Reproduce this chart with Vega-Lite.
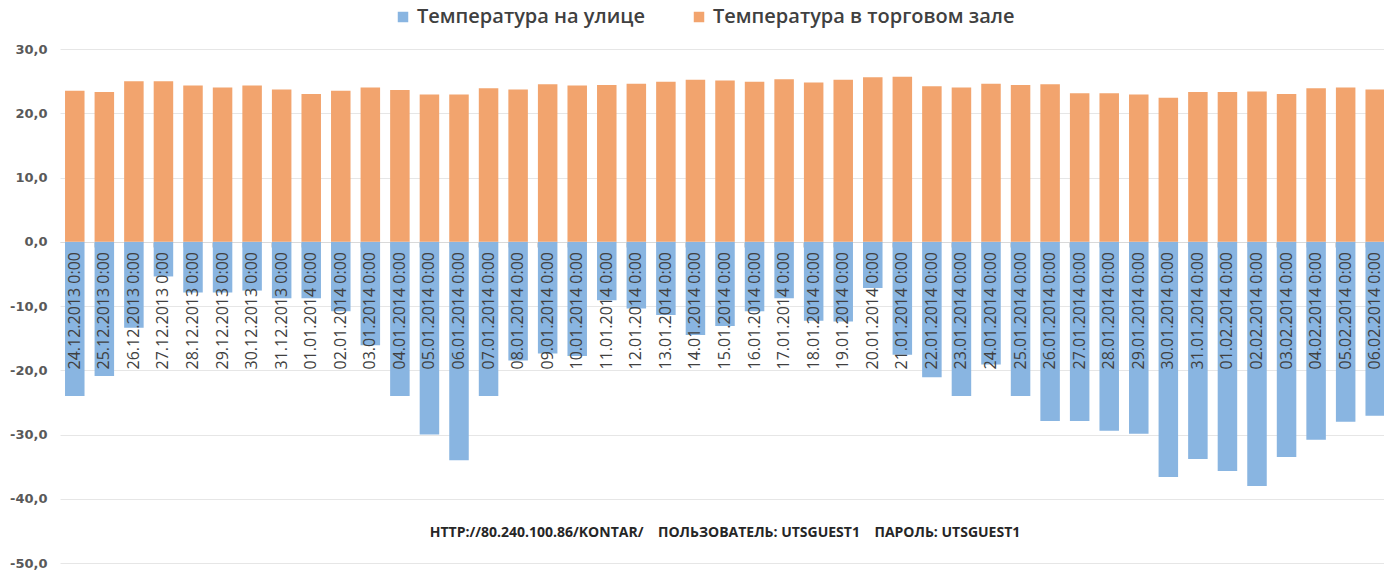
{
  "$schema": "https://vega.github.io/schema/vega-lite/v6.json",
  "width": 1330,
  "height": 514,
  "autosize": {"type": "none"},
  "padding": {"left": 60, "top": 49, "right": 0, "bottom": 9},
  "background": "white",
  "title": {
    "text": "HTTP://80.240.100.86/KONTAR/\u00a0\u00a0\u00a0\u00a0ПОЛЬЗОВАТЕЛЬ: UTSGUEST1\u00a0\u00a0\u00a0\u00a0ПАРОЛЬ: UTSGUEST1",
    "orient": "bottom",
    "anchor": "middle",
    "offset": -44,
    "font": "Open Sans",
    "fontSize": 14,
    "fontWeight": "bold",
    "color": "#262626"
  },
  "data": {
    "values": [
      {"d": "24.12.2013 0:00", "Температура на улице": -24.0, "Температура в торговом зале": 23.5},
      {"d": "25.12.2013 0:00", "Температура на улице": -20.9, "Температура в торговом зале": 23.3},
      {"d": "26.12.2013 0:00", "Температура на улице": -13.4, "Температура в торговом зале": 25.0},
      {"d": "27.12.2013 0:00", "Температура на улице": -5.4, "Температура в торговом зале": 25.0},
      {"d": "28.12.2013 0:00", "Температура на улице": -7.9, "Температура в торговом зале": 24.3},
      {"d": "29.12.2013 0:00", "Температура на улице": -7.9, "Температура в торговом зале": 24.0},
      {"d": "30.12.2013 0:00", "Температура на улице": -7.6, "Температура в торговом зале": 24.3},
      {"d": "31.12.2013 0:00", "Температура на улице": -8.8, "Температура в торговом зале": 23.7},
      {"d": "01.01.2014 0:00", "Температура на улице": -8.8, "Температура в торговом зале": 23.0},
      {"d": "02.01.2014 0:00", "Температура на улице": -10.8, "Температура в торговом зале": 23.5},
      {"d": "03.01.2014 0:00", "Температура на улице": -16.1, "Температура в торговом зале": 24.0},
      {"d": "04.01.2014 0:00", "Температура на улице": -24.0, "Температура в торговом зале": 23.6},
      {"d": "05.01.2014 0:00", "Температура на улице": -30.0, "Температура в торговом зале": 22.9},
      {"d": "06.01.2014 0:00", "Температура на улице": -34.0, "Температура в торговом зале": 22.9},
      {"d": "07.01.2014 0:00", "Температура на улице": -24.0, "Температура в торговом зале": 23.9},
      {"d": "08.01.2014 0:00", "Температура на улице": -18.5, "Температура в торговом зале": 23.7},
      {"d": "09.01.2014 0:00", "Температура на улице": -17.4, "Температура в торговом зале": 24.5},
      {"d": "10.01.2014 0:00", "Температура на улице": -17.8, "Температура в торговом зале": 24.3},
      {"d": "11.01.2014 0:00", "Температура на улице": -9.1, "Температура в торговом зале": 24.4},
      {"d": "12.01.2014 0:00", "Температура на улице": -10.4, "Температура в торговом зале": 24.6},
      {"d": "13.01.2014 0:00", "Температура на улице": -11.4, "Температура в торговом зале": 24.9},
      {"d": "14.01.2014 0:00", "Температура на улице": -14.5, "Температура в торговом зале": 25.2},
      {"d": "15.01.2014 0:00", "Температура на улице": -13.1, "Температура в торговом зале": 25.1},
      {"d": "16.01.2014 0:00", "Температура на улице": -10.8, "Температура в торговом зале": 24.9},
      {"d": "17.01.2014 0:00", "Температура на улице": -8.8, "Температура в торговом зале": 25.3},
      {"d": "18.01.2014 0:00", "Температура на улице": -12.3, "Температура в торговом зале": 24.8},
      {"d": "19.01.2014 0:00", "Температура на улице": -12.4, "Температура в торговом зале": 25.2},
      {"d": "20.01.2014 0:00", "Температура на улице": -7.2, "Температура в торговом зале": 25.6},
      {"d": "21.01.2014 0:00", "Температура на улице": -17.6, "Температура в торговом зале": 25.7},
      {"d": "22.01.2014 0:00", "Температура на улице": -21.1, "Температура в торговом зале": 24.2},
      {"d": "23.01.2014 0:00", "Температура на улице": -24.0, "Температура в торговом зале": 24.0},
      {"d": "24.01.2014 0:00", "Температура на улице": -19.1, "Температура в торговом зале": 24.6},
      {"d": "25.01.2014 0:00", "Температура на улице": -24.0, "Температура в торговом зале": 24.4},
      {"d": "26.01.2014 0:00", "Температура на улице": -27.9, "Температура в торговом зале": 24.5},
      {"d": "27.01.2014 0:00", "Температура на улице": -27.9, "Температура в торговом зале": 23.1},
      {"d": "28.01.2014 0:00", "Температура на улице": -29.4, "Температура в торговом зале": 23.1},
      {"d": "29.01.2014 0:00", "Температура на улице": -29.9, "Температура в торговом зале": 22.9},
      {"d": "30.01.2014 0:00", "Температура на улице": -36.6, "Температура в торговом зале": 22.4},
      {"d": "31.01.2014 0:00", "Температура на улице": -33.8, "Температура в торговом зале": 23.3},
      {"d": "01.02.2014 0:00", "Температура на улице": -35.7, "Температура в торговом зале": 23.3},
      {"d": "02.02.2014 0:00", "Температура на улице": -38.0, "Температура в торговом зале": 23.4},
      {"d": "03.02.2014 0:00", "Температура на улице": -33.5, "Температура в торговом зале": 23.0},
      {"d": "04.02.2014 0:00", "Температура на улице": -30.8, "Температура в торговом зале": 23.9},
      {"d": "05.02.2014 0:00", "Температура на улице": -28.0, "Температура в торговом зале": 24.0},
      {"d": "06.02.2014 0:00", "Температура на улице": -27.1, "Температура в торговом зале": 23.7}
    ]
  },
  "encoding": {
    "x": {
      "field": "d",
      "type": "nominal",
      "sort": null,
      "scale": {"paddingInner": 0.34, "paddingOuter": 0.17},
      "axis": {
        "title": null,
        "labels": false,
        "offset": -321,
        "domainColor": "#D9D9D9",
        "tickColor": "#D9D9D9",
        "tickSize": 5,
        "bandPosition": 0,
        "grid": false
      }
    }
  },
  "layer": [
    {
      "transform": [
        {"fold": ["Температура на улице", "Температура в торговом зале"], "as": ["series", "temp"]}
      ],
      "mark": {"type": "bar"},
      "encoding": {
        "y": {
          "field": "temp",
          "type": "quantitative",
          "stack": null,
          "scale": {"domain": [-50, 30], "nice": false},
          "axis": {
            "title": null,
            "values": [-50, -40, -30, -20, -10, 0, 10, 20, 30],
            "labelExpr": "(datum.value < 0 ? '-' : '') + replace(format(abs(datum.value), '.1f'), '.', ',')",
            "domain": false,
            "ticks": false,
            "labelPadding": 13,
            "labelFont": "DejaVu Sans",
            "labelFontSize": 13,
            "labelFontWeight": "bold",
            "labelColor": "#595959",
            "gridColor": "#E6E6E6"
          }
        },
        "color": {
          "field": "series",
          "type": "nominal",
          "scale": {
            "domain": ["Температура на улице", "Температура в торговом зале"],
            "range": ["#89B5E1", "#F2A46E"]
          },
          "legend": {
            "title": null,
            "orient": "none",
            "direction": "horizontal",
            "legendX": 333,
            "legendY": -42,
            "symbolType": "square",
            "symbolSize": 110,
            "symbolStrokeWidth": 0,
            "labelFont": "Open Sans",
            "labelFontSize": 20,
            "labelFontWeight": 600,
            "labelColor": "#404040",
            "labelOffset": 4,
            "columnPadding": 44,
            "labelLimit": 400
          }
        }
      }
    },
    {
      "mark": {
        "type": "text",
        "angle": 270,
        "align": "right",
        "baseline": "middle",
        "font": "Open Sans",
        "fontSize": 16,
        "color": "#404040"
      },
      "encoding": {
        "y": {"datum": -1.6},
        "text": {"field": "d"}
      }
    }
  ],
  "config": {
    "view": {"stroke": null}
  }
}
